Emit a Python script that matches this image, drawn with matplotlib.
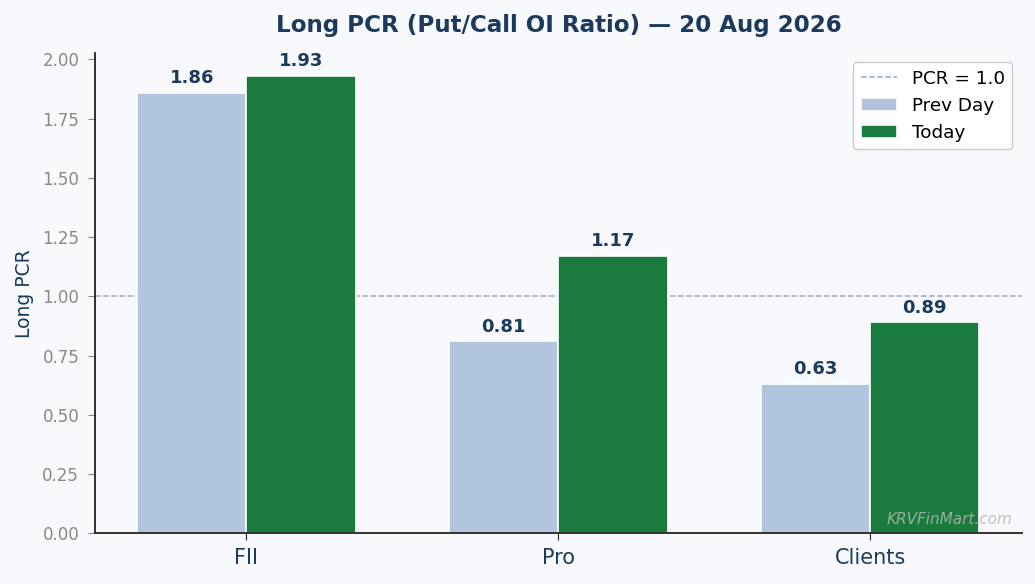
import matplotlib
matplotlib.use("Agg")
import matplotlib.pyplot as plt
import numpy as np

plt.rcParams["font.family"] = "DejaVu Sans"

CATEGORIES = ["FII", "Pro", "Clients"]
PREV_DAY = [1.86, 0.81, 0.63]
TODAY = [1.93, 1.17, 0.89]
REF_LEVEL = 1.0

NAVY = "#1B3A5C"
BG = "#F7F9FC"
PREV_COLOR = "#B0C4DE"
TODAY_COLOR = "#1B7A3D"

fig, ax = plt.subplots(figsize=(10.35, 5.84), dpi=100)
fig.patch.set_facecolor(BG)
ax.set_facecolor(BG)
fig.subplots_adjust(left=0.092, right=0.987, bottom=0.087, top=0.909)

x = np.arange(len(CATEGORIES))
w = 0.35

ax.axhline(REF_LEVEL, color="#9AAAC2", linestyle="--", linewidth=1.1,
           label="PCR = 1.0", zorder=1)
b1 = ax.bar(x - w / 2, PREV_DAY, w, color=PREV_COLOR, edgecolor="white",
            linewidth=1.2, label="Prev Day", zorder=2)
b2 = ax.bar(x + w / 2, TODAY, w, color=TODAY_COLOR, edgecolor="white",
            linewidth=1.2, label="Today", zorder=2)

for bars in (b1, b2):
    for bar in bars:
        h = bar.get_height()
        ax.annotate(f"{h:.2f}", xy=(bar.get_x() + bar.get_width() / 2, h),
                    xytext=(0, 4), textcoords="offset points",
                    ha="center", va="bottom", fontsize=13, fontweight="bold",
                    color=NAVY)

ax.set_ylim(0, max(TODAY) * 1.05)
ax.set_xticks(x)
ax.set_xticklabels(CATEGORIES, fontsize=15, color=NAVY)
ax.tick_params(axis="x", length=5, pad=6, color="#222222")
ax.tick_params(axis="y", labelsize=12, labelcolor="#888888", color="#888888",
               length=5, pad=6.5)
ax.set_ylabel("Long PCR", fontsize=13.5, color=NAVY, labelpad=6)
ax.set_title("Long PCR (Put/Call OI Ratio) — 20 Aug 2026", fontsize=16.6,
             fontweight="bold", color=NAVY, pad=15)

for s in ("top", "right"):
    ax.spines[s].set_visible(False)
for s in ("left", "bottom"):
    ax.spines[s].set_color("#222222")
    ax.spines[s].set_linewidth(1.3)

leg = ax.legend(loc="upper right", fontsize=13.2, framealpha=1,
                edgecolor="#CCCCCC", facecolor="white")

ax.text(0.99, 0.012, "KRVFinMart.com", transform=ax.transAxes, ha="right",
        va="bottom", fontsize=11, color="#B5B5B5", style="italic", alpha=0.85,
        zorder=5)

fig.savefig("out.png", dpi=100, facecolor=BG)
